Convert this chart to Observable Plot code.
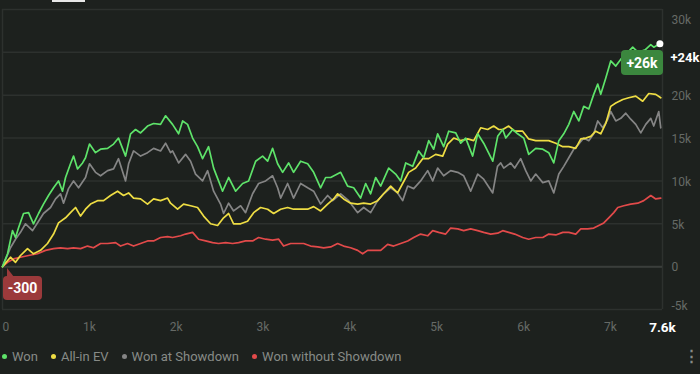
<!DOCTYPE html>
<html>
<head>
<meta charset="utf-8">
<script src="https://cdn.jsdelivr.net/npm/d3@7"></script>
<script src="https://cdn.jsdelivr.net/npm/@observablehq/plot@0.6"></script>
<style>
  html, body { margin: 0; padding: 0; background: #1d211e; }
  #wrap { position: relative; width: 700px; height: 374px; background: #1d211e; overflow: hidden; font-family: Roboto, sans-serif; }
  #legend { position: absolute; left: 2px; top: 349px; display: flex; align-items: center; font-size: 13px; color: #878b87; }
  #legend .item { display: flex; align-items: center; margin-right: 13px; }
  #legend .dot { width: 5px; height: 5px; border-radius: 50%; margin-right: 5px; }
  .box { position: absolute; color: #fff; font-weight: bold; font-size: 14px; display: flex; align-items: center; justify-content: center; border-radius: 4px; font-family: Roboto, sans-serif; }
</style>
</head>
<body>
<div id="wrap">
  <div id="chart"></div>
  <div id="legend"></div>
</div>
<script>
// ---- data (hands, cumulative winnings) ----
const seriesNames = ["Won", "All-in EV", "Won at Showdown", "Won without Showdown"];
const seriesColors = ["#5ee36a", "#eedd44", "#858585", "#e24a4a"];

const won = [[0,0],[58,1500],[115,4200],[150,3400],[184,4500],[242,6200],[300,6300],[357,5000],[415,6200],[472,7300],[530,8300],[588,9200],[645,10000],[691,8800],[726,10400],[783,12000],[818,12900],[864,11400],[922,12100],[956,12700],[1002,14300],[1071,13300],[1129,13700],[1210,13800],[1279,14300],[1336,15000],[1417,12900],[1475,15500],[1532,16000],[1590,15600],[1670,16400],[1740,16700],[1820,16600],[1878,17600],[1958,16600],[2028,15500],[2074,17000],[2131,16600],[2189,15000],[2246,14000],[2304,12600],[2373,14000],[2431,11500],[2488,10000],[2534,8800],[2604,10400],[2684,8800],[2765,9700],[2834,10000],[2915,12300],[2995,12900],[3053,12300],[3110,13800],[3168,12000],[3226,11000],[3295,12100],[3352,11000],[3433,12300],[3514,12000],[3583,11000],[3663,9200],[3721,10400],[3779,10400],[3894,11000],[3974,9400],[4044,9200],[4124,8000],[4182,9700],[4239,8500],[4297,10400],[4355,9400],[4447,11500],[4527,10800],[4585,10000],[4643,12100],[4723,11700],[4792,13500],[4850,12700],[4908,14700],[4965,13700],[5011,15500],[5080,14000],[5138,15800],[5219,15600],[5276,14400],[5334,15000],[5414,12900],[5472,15500],[5541,14400],[5645,12300],[5702,15200],[5760,16000],[5795,15000],[5875,16000],[5932,15500],[6002,15000],[6059,13100],[6140,13800],[6221,13700],[6290,13300],[6348,12100],[6406,14700],[6463,15500],[6521,16600],[6578,18100],[6636,17000],[6693,18700],[6751,18400],[6808,20100],[6854,21300],[6889,20100],[6947,22000],[7004,24000],[7062,23400],[7120,24200],[7200,25000],[7257,25600],[7320,25000],[7400,25300],[7465,25900],[7499,25600],[7570,26000]];

const allInEV = [[0,0],[92,1100],[150,500],[207,1300],[288,2100],[357,1500],[438,1900],[518,2700],[588,3800],[645,5100],[726,5700],[783,6300],[841,6900],[899,5900],[956,6700],[1014,7300],[1094,7700],[1164,7700],[1244,8300],[1325,8800],[1394,8300],[1452,8600],[1509,8000],[1590,7900],[1670,7300],[1740,7900],[1820,7700],[1901,8000],[1935,7400],[2016,6700],[2085,7300],[2166,7100],[2246,6900],[2316,5900],[2396,5000],[2477,4800],[2546,5700],[2604,6200],[2661,5000],[2742,5000],[2822,5300],[2892,6300],[2972,6900],[3053,6700],[3122,6200],[3203,6700],[3283,6900],[3352,6700],[3433,6700],[3514,6700],[3583,7000],[3663,6500],[3744,7300],[3813,7900],[3859,8500],[3928,7900],[4009,7400],[4090,7300],[4159,7400],[4239,7300],[4320,7700],[4389,8500],[4470,9400],[4550,8600],[4608,9700],[4677,11000],[4758,11500],[4838,12600],[4908,12600],[4988,13100],[5069,12900],[5126,14300],[5196,15000],[5276,14700],[5357,14900],[5426,14700],[5507,16200],[5587,16000],[5656,16400],[5714,16000],[5760,16000],[5829,16400],[5898,15800],[5990,15800],[6059,14900],[6140,14700],[6221,14700],[6290,14700],[6371,14400],[6452,14000],[6521,14000],[6601,13800],[6659,14900],[6716,15000],[6774,15200],[6831,15800],[6889,15500],[6947,16700],[7004,18700],[7062,19100],[7143,19500],[7211,19700],[7292,19900],[7372,19300],[7442,20200],[7522,20100],[7580,19700]];

const wonAtShowdown = [[0,0],[92,2200],[150,3200],[207,4000],[265,5000],[346,4200],[415,5300],[472,6200],[553,6900],[611,7900],[668,8500],[703,7400],[760,9100],[818,10000],[876,9200],[956,10400],[1002,12000],[1071,11000],[1129,10600],[1210,11200],[1279,11400],[1336,12600],[1417,10000],[1452,12000],[1509,13500],[1590,12900],[1670,13300],[1740,13800],[1820,13500],[1878,14400],[1935,13300],[1958,13500],[2028,12100],[2108,13100],[2166,12300],[2223,10800],[2304,10000],[2362,11200],[2431,8800],[2511,7300],[2546,6200],[2604,7400],[2661,6500],[2742,7100],[2799,6300],[2880,8500],[2949,9700],[3030,10000],[3110,10600],[3168,9200],[3203,8000],[3283,9700],[3352,8000],[3433,9700],[3514,9200],[3583,8800],[3663,7300],[3744,8300],[3802,7700],[3894,8500],[3986,7700],[4090,6300],[4159,6900],[4239,6300],[4320,7700],[4389,8500],[4470,9200],[4550,8600],[4608,7700],[4666,9400],[4735,9100],[4815,10000],[4896,11200],[4954,10000],[5011,11500],[5080,10600],[5161,11200],[5242,11000],[5311,10600],[5391,8800],[5472,10800],[5541,10200],[5645,8600],[5700,11700],[5737,12100],[5772,11500],[5852,12100],[5898,11500],[5967,12600],[6025,11200],[6083,10000],[6140,10800],[6221,9800],[6290,10000],[6348,8600],[6406,10800],[6463,11700],[6521,12700],[6578,13700],[6636,14300],[6693,15000],[6751,14700],[6808,15500],[6854,17000],[6912,16200],[6970,17200],[7004,18100],[7062,17000],[7120,17300],[7177,17900],[7234,17200],[7292,16600],[7350,15600],[7407,16600],[7465,17300],[7499,16400],[7557,18100],[7580,16200]];

const wonWithoutShowdown = [[0,0],[58,500],[127,900],[207,1100],[300,1300],[403,1500],[495,1900],[588,2100],[668,2200],[749,2100],[818,2200],[899,2100],[979,2400],[1048,2200],[1129,2700],[1210,2700],[1302,2800],[1359,2400],[1440,2700],[1509,2400],[1590,2700],[1670,3000],[1740,3000],[1820,3400],[1901,3500],[1958,3400],[2051,3600],[2108,3800],[2189,4000],[2258,3200],[2339,3000],[2419,2800],[2488,2700],[2569,2800],[2650,2700],[2719,2800],[2799,3000],[2880,3000],[2949,3400],[3030,3200],[3110,3100],[3180,3200],[3237,2400],[3318,2700],[3398,2700],[3468,2700],[3548,2400],[3629,2300],[3698,2200],[3779,2300],[3859,2700],[3928,2400],[4009,2200],[4090,1900],[4147,1500],[4205,1900],[4274,1900],[4355,1900],[4435,2600],[4504,2400],[4585,2700],[4666,3000],[4735,3400],[4815,3800],[4896,3600],[4954,4200],[5023,4000],[5103,3800],[5161,4500],[5242,4400],[5311,4200],[5391,4400],[5472,4200],[5541,4000],[5622,3800],[5702,3900],[5760,4200],[5829,4000],[5898,3800],[5990,3400],[6059,3200],[6140,3400],[6221,3400],[6290,3800],[6371,3700],[6452,4000],[6521,4000],[6601,3800],[6659,4400],[6739,4400],[6808,4500],[6866,4800],[6924,5100],[6981,5700],[7039,6300],[7085,6900],[7154,7100],[7234,7300],[7315,7400],[7384,7700],[7465,8300],[7522,7900],[7580,8000]];

const xTicks = [1000, 2000, 3000, 4000, 5000, 6000, 7000];
const xTickLabels = ["1k", "2k", "3k", "4k", "5k", "6k", "7k"];
const xEnd = 7600, xEndLabel = "7.6k";
const yGrid = [-5000, 0, 5000, 10000, 15000, 20000, 25000, 30000];
const yTicks = [0, 5000, 10000, 15000, 20000];
const yTickLabels = ["0", "5k", "10k", "15k", "20k"];
const startLabel = "-300";
const endLabel = "+26k";
const sideLabel = "+24k";
const sideValue = 24000;

// ---- chart ----
const gridColor = "#2d312e";
const tickColor = "#666a66";
const lineData = [wonWithoutShowdown, wonAtShowdown, allInEV, won];
const lineColors = [seriesColors[3], seriesColors[2], seriesColors[1], seriesColors[0]];
const last = won[won.length - 1];

const chart = Plot.plot({
  width: 700, height: 340,
  marginLeft: 2, marginRight: 38, marginTop: 9, marginBottom: 31,
  style: { background: "transparent", fontFamily: "Roboto, sans-serif" },
  x: { domain: [0, xEnd], axis: null },
  y: { domain: [-5000, 30000], axis: null },
  marks: [
    Plot.ruleY(yGrid, { stroke: gridColor, strokeWidth: 1.5 }),
    Plot.ruleX([0, xEnd], { y1: -5000, y2: 30000, stroke: gridColor, strokeWidth: 1.5 }),
    Plot.ruleY([0], { stroke: "#3a3e3b", strokeWidth: 2 }),
    ...lineData.map((d, i) => Plot.line(d, { x: p => p[0], y: p => p[1], stroke: lineColors[i], strokeWidth: 1.7, strokeLinejoin: "round" })),
    Plot.dot([last], { x: p => p[0], y: p => p[1], r: 3.5, fill: "#ffffff" }),
    Plot.text(yTicks, { x: () => xEnd, y: d => d, text: (d, i) => yTickLabels[i], dx: 9, dy: 1, textAnchor: "start", fill: tickColor, fontSize: 12 }),
    Plot.text([30000], { x: () => xEnd, y: d => d, text: () => "30k", dx: 9, dy: 11, textAnchor: "start", fill: tickColor, fontSize: 12 }),
    Plot.text([-5000], { x: () => xEnd, y: d => d, text: () => "-5k", dx: 9, dy: -3, textAnchor: "start", fill: tickColor, fontSize: 12 }),
    Plot.text(xTicks, { x: d => d, y: () => -5000, text: (d, i) => xTickLabels[i], dy: 18, fill: tickColor, fontSize: 12 }),
    Plot.text([0], { x: d => d, y: () => -5000, text: () => "0", dy: 18, textAnchor: "start", fill: tickColor, fontSize: 12 }),
    Plot.text([xEnd], { x: d => d, y: () => -5000, text: () => xEndLabel, dy: 18, fill: "#ffffff", fontSize: 13.5, fontWeight: "bold" }),
    Plot.text([sideValue], { x: () => xEnd, y: d => d, text: () => sideLabel, dx: 8, dy: -3, textAnchor: "start", fill: "#ffffff", fontSize: 13, fontWeight: "bold" })
  ]
});
document.getElementById("chart").appendChild(chart);

const xs = chart.scale("x"), ys = chart.scale("y");
const wrap = document.getElementById("wrap");

// start label (red)
{
  const px = xs.apply(0), py = ys.apply(0);
  const b = document.createElement("div");
  b.className = "box";
  Object.assign(b.style, { left: (px + 1) + "px", top: (py + 10) + "px", width: "39px", height: "24px", background: "#9b3a3b" });
  b.textContent = startLabel;
  wrap.appendChild(b);
  const t = document.createElement("div");
  Object.assign(t.style, { position: "absolute", left: (px + 5) + "px", top: (py + 2) + "px", width: 0, height: 0,
    borderLeft: "0px solid transparent", borderRight: "7px solid transparent", borderBottom: "9px solid #9b3a3b" });
  wrap.appendChild(t);
}
// end label (green)
{
  const px = xs.apply(xEnd), py = ys.apply(last[1]);
  const b = document.createElement("div");
  b.className = "box";
  Object.assign(b.style, { left: (px - 41) + "px", top: (py + 7) + "px", width: "42px", height: "25px", background: "#3b873e" });
  b.textContent = endLabel;
  wrap.appendChild(b);
}
// tab underline
{
  const u = document.createElement("div");
  Object.assign(u.style, { position: "absolute", left: "52px", top: "0px", width: "33px", height: "2px", background: "#e8e8e8" });
  wrap.appendChild(u);
}
// legend
const legend = document.getElementById("legend");
seriesNames.forEach((n, i) => {
  const it = document.createElement("div");
  it.className = "item";
  it.innerHTML = `<span class="dot" style="background:${seriesColors[i]}"></span><span>${n}</span>`;
  legend.appendChild(it);
});
{
  const m = document.createElement("div");
  Object.assign(m.style, { position: "absolute", left: "684px", top: "347px", color: "#878b87", fontSize: "15px", fontWeight: "bold" });
  m.textContent = "⋮";
  wrap.appendChild(m);
}
</script>
</body>
</html>
